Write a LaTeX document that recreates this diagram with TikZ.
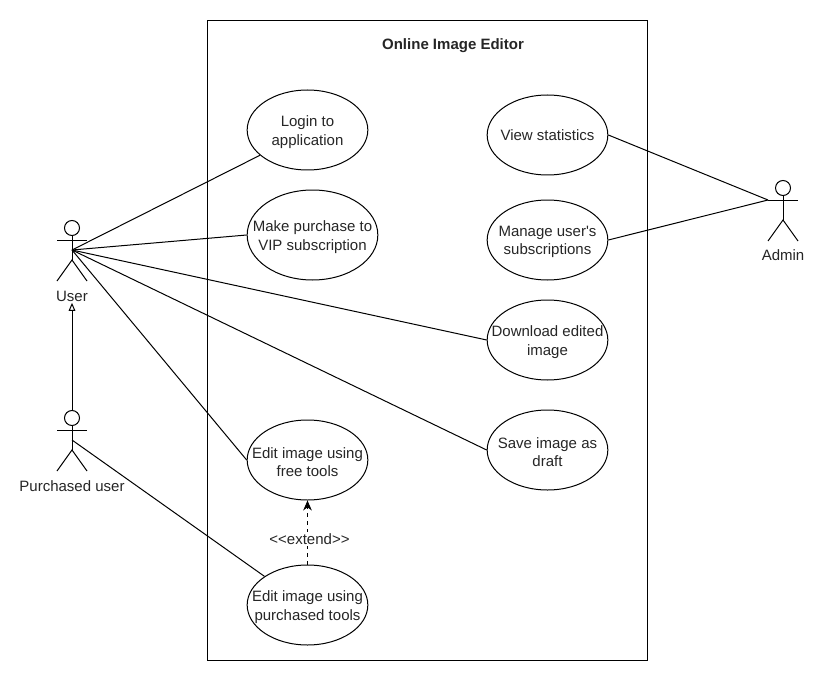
\documentclass[tikz,border=0pt]{standalone}
\usepackage{fontspec}
\setmainfont{Liberation Sans}
\usetikzlibrary{shapes.geometric,arrows.meta}
\tikzset{
    usecase/.style={ellipse,draw,line width=.75pt,minimum width=90.5pt,minimum height=60pt,inner sep=0},
    usecasetext/.style={align=center,inner sep=0,yshift=-1.5pt,font=\fontsize{11.25pt}{13.8pt}\selectfont,text=black!85},
    actorhead/.style={circle,draw,line width=.75pt,minimum size=11.25pt,inner sep=0},
    actortext/.style={inner sep=1pt,font=\fontsize{11.25pt}{13.8pt}\selectfont,text=black!85},
    assoc/.style={line width=.75pt},
}
\newcommand{\actorbody}[3]{
    \draw[assoc] (#2-15,#3+12) -- (#2+15,#3+12);
    \draw[assoc] (#1.south) -- (#2,#3+32);
    \draw[assoc] (#2-15,#3+53) -- (#2,#3+32) -- (#2+15,#3+53);
}
\begin{document}
\begin{tikzpicture}[x=.75pt,y=-.75pt]
    \useasboundingbox (0,0) rectangle (824,681);
    \fill[white] (0,0) rectangle (824,681);
    \node[draw,line width=.75pt,minimum width=330pt,minimum height=479.25pt,inner sep=0] (editor) at (427,340.5) {};
    \node[usecasetext] (title) at (453,44) {\textbf{Online Image Editor}};
    % left column
    \node[usecase,label={[usecasetext,name=logintext]center:Login to\\application}] (login) at (307.5,130) {};
    \node[usecase,minimum width=98pt,minimum height=67.5pt,label={[usecasetext,name=purchasetext]center:Make purchase to\\VIP subscription}] (purchase) at (312.5,235) {};
    \node[usecase,label={[usecasetext,name=freetext]center:Edit image using\\free tools}] (free) at (307.5,460) {};
    \node[usecase,label={[usecasetext,name=paidtext]center:Edit image using\\purchased tools}] (paid) at (307.5,605) {};
    % right column
    \node[usecase,label={[usecasetext,yshift=1.5pt,name=statstext]center:View statistics}] (stats) at (547.5,135) {};
    \node[usecase,label={[usecasetext,name=managetext]center:Manage user\textquotesingle s\\subscriptions}] (manage) at (547.5,240) {};
    \node[usecase,label={[usecasetext,name=downloadtext]center:Download edited\\image}] (download) at (547.5,340) {};
    \node[usecase,label={[usecasetext,name=savetext]center:Save image as\\draft}] (save) at (547.5,450) {};
    % actors
    \node[actorhead] (userhead) at (72,228) {};
    \actorbody{userhead}{72}{228}
    \coordinate (user) at (72,250);
    \node[actortext] (usertext) at (72,296) {User};
    \node[actorhead] (buyerhead) at (72,418) {};
    \actorbody{buyerhead}{72}{418}
    \coordinate (buyer) at (72,440);
    \node[actortext] (buyertext) at (72,486) {Purchased user};
    \node[actorhead] (adminhead) at (783,188) {};
    \actorbody{adminhead}{783}{188}
    \coordinate (admin) at (768,200);
    \node[actortext] (admintext) at (783,255) {Admin};
    % connectors
    \draw[assoc] (user) -- (login.208);
    \draw[assoc] (user) -- (purchase.west);
    \draw[assoc] (user) -- (download.west);
    \draw[assoc] (user) -- (save.west);
    \draw[assoc] (user) -- (free.west);
    \draw[assoc] (buyer) -- (paid.north west);
    \draw[assoc] (stats.east) -- (admin);
    \draw[assoc] (manage.east) -- (admin);
    \draw[assoc,-{Triangle[open,length=6pt,width=5pt]}] (buyerhead.north) -- (usertext.south);
    \draw[assoc,dashed,-{Stealth[length=7.5pt,width=6.5pt,fill=black]}] (paid.north) -- (free.south) node[pos=.4,fill=white,actortext,xshift=1.5pt] (extendtext) {<{}<extend>{}>};
\end{tikzpicture}
\end{document}
